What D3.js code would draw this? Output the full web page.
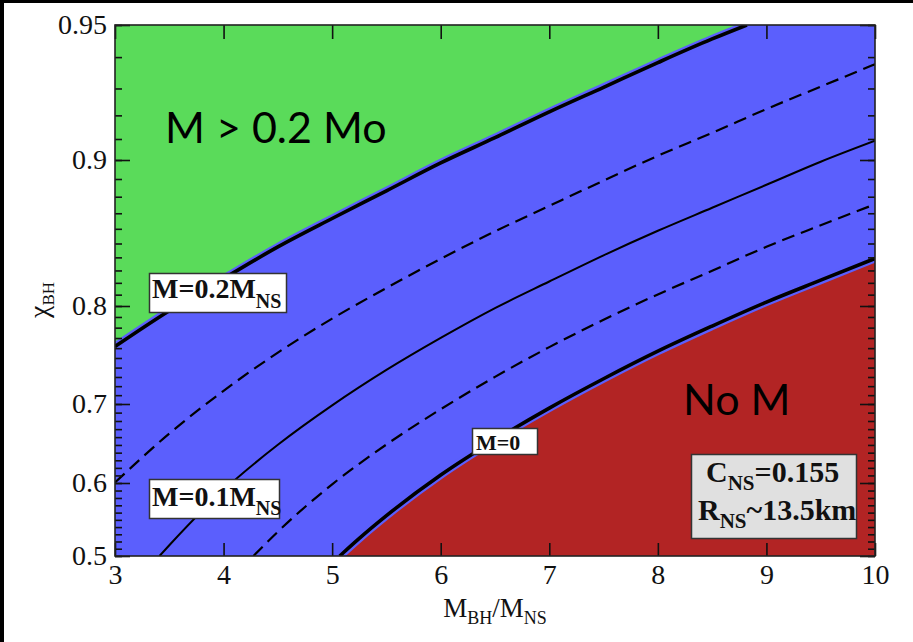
<!DOCTYPE html>
<html>
<head>
<meta charset="utf-8">
<script src="https://cdn.jsdelivr.net/npm/d3@7"></script>
<style>
  body { margin: 0; background: #fff; }
  svg { display: block; }
</style>
</head>
<body>
<svg id="chart" width="913" height="642"></svg>
<script>
// ---- data: remnant-mass contours in the (M_BH/M_NS, chi_BH) plane ----
const qTicks = [3, 4, 5, 6, 7, 8, 9, 10];
const chiTicks = [0.5, 0.6, 0.7, 0.8, 0.9, 0.95];
const chiTickLabels = ["0.5", "0.6", "0.7", "0.8", "0.9", "0.95"];

// contour M = 0 (no remnant to the lower right)
const contourM0 = [[5.07, 0.5], [5.1, 0.5041], [5.25, 0.5243], [5.5, 0.5558], [6, 0.6106], [6.5, 0.6564],
  [7, 0.6953], [7.5, 0.7281], [8, 0.7569], [8.5, 0.7815], [9, 0.8035], [9.5, 0.8222], [10, 0.8392]];
// contour M = 0.05 M_NS
const contourM005 = [[4.275, 0.5], [4.5, 0.5336], [5, 0.5982], [5.5, 0.6506], [6, 0.694], [6.5, 0.7301],
  [7, 0.761], [7.5, 0.7874], [8, 0.8102], [8.5, 0.8298], [9, 0.8477], [9.5, 0.8623], [10, 0.8755]];
// contour M = 0.1 M_NS
const contourM01 = [[3.41, 0.5], [3.5, 0.5148], [4, 0.5905], [4.5, 0.6502], [5, 0.6984], [5.5, 0.7375],
  [6, 0.7701], [6.5, 0.7981], [7, 0.8211], [7.5, 0.8415], [8, 0.8587], [8.5, 0.8734], [9, 0.8868],
  [9.5, 0.8991], [10, 0.9092]];
// contour M = 0.15 M_NS
const contourM015 = [[3, 0.6006], [3.5, 0.6645], [4, 0.7149], [4.5, 0.7555], [5, 0.7885], [5.5, 0.8157],
  [6, 0.8389], [6.5, 0.8583], [7, 0.8745], [7.5, 0.8891], [8, 0.9021], [8.5, 0.9127], [9, 0.9225],
  [9.5, 0.9306], [10, 0.9378]];
// contour M = 0.2 M_NS (more than 0.2 Msun above it)
const contourM02 = [[3, 0.7616], [3.5, 0.7957], [4, 0.8235], [4.5, 0.8476], [5, 0.8667], [5.5, 0.8834],
  [6, 0.8985], [6.5, 0.9106], [7, 0.9214], [7.5, 0.9304], [8, 0.9383], [8.5, 0.9456], [8.82, 0.95]];

// ---- layout ----
const plot = { left: 115, right: 875, top: 25, bottom: 556 };
const plotH = plot.bottom - plot.top;

// the spin axis is stretched towards high spin: anchor spins and their
// height above the bottom edge (out of 531), joined by a smooth monotone curve
const chiAnchors = [0.5, 0.6, 0.7, 0.8, 0.85, 0.9, 0.925, 0.95];
const chiAnchorHeights = [0, 73, 152, 250, 312.5, 396, 453.5, 531];

function monotoneCubic(xs, ys) {
  const n = xs.length, dx = [], m = [], t = new Array(n);
  for (let k = 0; k < n - 1; k++) { dx[k] = xs[k + 1] - xs[k]; m[k] = (ys[k + 1] - ys[k]) / dx[k]; }
  t[0] = m[0]; t[n - 1] = m[n - 2];
  for (let k = 1; k < n - 1; k++) {
    if (m[k - 1] * m[k] <= 0) t[k] = 0;
    else t[k] = 3 * (dx[k - 1] + dx[k]) /
      ((2 * dx[k] + dx[k - 1]) / m[k - 1] + (dx[k] + 2 * dx[k - 1]) / m[k]);
  }
  return v => {
    let k = Math.max(0, Math.min(n - 2, d3.bisectRight(xs, v) - 1));
    const h = dx[k], s = (v - xs[k]) / h, s2 = s * s, s3 = s2 * s;
    return (2 * s3 - 3 * s2 + 1) * ys[k] + (s3 - 2 * s2 + s) * h * t[k] +
      (-2 * s3 + 3 * s2) * ys[k + 1] + (s3 - s2) * h * t[k + 1];
  };
}
const chiHeight = monotoneCubic(chiAnchors, chiAnchorHeights);
const chiDense = d3.range(0, 181).map(i => 0.5 + i * 0.0025);

const colors = { green: "#5adb5a", blue: "#5b5ffd", red: "#b22424" };
const serif = "'Liberation Serif', 'DejaVu Serif', serif";
const sans = "Lato, 'Open Sans', 'Liberation Sans', sans-serif";

const svg = d3.select("#chart");

// outer dark edge of the figure
svg.append("rect").attr("x", 0).attr("y", 0).attr("width", 913).attr("height", 3).attr("fill", "#000");
svg.append("rect").attr("x", 0).attr("y", 0).attr("width", 4).attr("height", 642).attr("fill", "#000");

const x = d3.scaleLinear().domain([3, 10]).range([plot.left, plot.right]);
const y = d3.scaleLinear().domain(chiDense)
  .range(chiDense.map(c => plot.bottom - chiHeight(c) / 531 * plotH));

svg.append("clipPath").attr("id", "plotClip")
  .append("rect").attr("x", plot.left).attr("y", plot.top)
  .attr("width", plot.right - plot.left).attr("height", plotH);

const g = svg.append("g").attr("clip-path", "url(#plotClip)");

// regions
g.append("rect").attr("x", plot.left).attr("y", plot.top)
  .attr("width", plot.right - plot.left).attr("height", plotH).attr("fill", colors.blue);

g.append("path").datum(contourM02)
  .attr("d", d3.area().x(d => x(d[0])).y0(y(0.95)).y1(d => y(d[1])).curve(d3.curveMonotoneX))
  .attr("fill", colors.green);

g.append("path").datum(contourM0)
  .attr("d", d3.area().x(d => x(d[0])).y0(y(0.5)).y1(d => y(d[1])).curve(d3.curveMonotoneX))
  .attr("fill", colors.red);

// contour lines
const line = d3.line().x(d => x(d[0])).y(d => y(d[1])).curve(d3.curveMonotoneX);

[contourM02, contourM0].forEach(c => {
  g.append("path").datum(c).attr("d", line).attr("fill", "none")
    .attr("stroke", colors.blue).attr("stroke-width", 8);
  g.append("path").datum(c).attr("d", line).attr("fill", "none")
    .attr("stroke", "#000").attr("stroke-width", 3.6);
});
g.append("path").datum(contourM01).attr("d", line).attr("fill", "none")
  .attr("stroke", "#000").attr("stroke-width", 2);
[contourM005, contourM015].forEach(c => {
  g.append("path").datum(c).attr("d", line).attr("fill", "none")
    .attr("stroke", "#000").attr("stroke-width", 2.2).attr("stroke-dasharray", "13,7");
});

// axes (ticks point inwards)
function styleAxis(sel) {
  sel.select(".domain").remove();
  sel.selectAll(".tick line").attr("stroke", "#111").attr("stroke-width", 1.6);
  sel.selectAll(".tick text").attr("font-family", serif).attr("font-size", 28).attr("fill", "#111");
}

const chiMinor = d3.range(50, 96).map(d => d / 100);

svg.append("g").attr("transform", `translate(0,${plot.bottom})`)
  .call(d3.axisBottom(x).tickValues(qTicks).tickSize(-13).tickPadding(8).tickFormat(d3.format("d")))
  .call(styleAxis);
svg.append("g").attr("transform", `translate(0,${plot.top})`)
  .call(d3.axisTop(x).tickValues(qTicks).tickSize(-14).tickFormat(""))
  .call(styleAxis);

svg.append("g").attr("transform", `translate(${plot.left},0)`)
  .call(d3.axisLeft(y).tickValues(chiMinor).tickSize(-7).tickFormat(""))
  .call(styleAxis);
svg.append("g").attr("transform", `translate(${plot.left},0)`)
  .call(d3.axisLeft(y).tickValues(chiTicks).tickSize(-15).tickPadding(8)
    .tickFormat((d, i) => chiTickLabels[i]))
  .call(styleAxis);
svg.append("g").attr("transform", `translate(${plot.right},0)`)
  .call(d3.axisRight(y).tickValues(chiMinor).tickSize(-7).tickFormat(""))
  .call(styleAxis);
svg.append("g").attr("transform", `translate(${plot.right},0)`)
  .call(d3.axisRight(y).tickValues(chiTicks).tickSize(-15).tickFormat(""))
  .call(styleAxis);

// frame
svg.append("rect").attr("x", plot.left).attr("y", plot.top)
  .attr("width", plot.right - plot.left).attr("height", plotH)
  .attr("fill", "none").attr("stroke", "#222").attr("stroke-width", 1.6);

// axis titles
const xt = svg.append("text").attr("x", (plot.left + plot.right) / 2).attr("y", 617)
  .attr("text-anchor", "middle").attr("font-family", serif).attr("font-size", 27).attr("fill", "#111");
xt.append("tspan").text("M");
xt.append("tspan").attr("font-size", 18).attr("dy", 7).text("BH");
xt.append("tspan").attr("dy", -7).text("/M");
xt.append("tspan").attr("font-size", 18).attr("dy", 7).text("NS");

const yt = svg.append("text").attr("transform", "translate(48,300) rotate(-90)")
  .attr("text-anchor", "middle").attr("font-family", serif).attr("font-size", 28).attr("fill", "#111");
yt.append("tspan").text("χ");
yt.append("tspan").attr("font-size", 17).attr("dy", 6).text("BH");

// boxed labels
function boxedLabel(bx, by, bw, bh, fill, lines) {
  const grp = svg.append("g");
  grp.append("rect").attr("x", bx).attr("y", by).attr("width", bw).attr("height", bh)
    .attr("fill", fill).attr("stroke", "#333").attr("stroke-width", 1.5);
  lines.forEach(l => {
    const t = grp.append("text").attr("x", l.x).attr("y", l.y).attr("font-family", serif)
      .attr("font-weight", "bold").attr("font-size", l.size).attr("fill", "#111");
    l.parts.forEach(p => {
      const ts = t.append("tspan").text(p.text);
      if (p.sub) ts.attr("font-size", p.sub).attr("dy", p.dy);
      else if (p.dy) ts.attr("dy", p.dy);
    });
  });
}

boxedLabel(149.5, 273.5, 137, 39, "#fff", [
  { x: 152, y: 298, size: 28, parts: [{ text: "M=0.2M" }, { text: "NS", sub: 20, dy: 10 }] }
]);
boxedLabel(149.5, 479.5, 130, 39, "#fff", [
  { x: 152, y: 506, size: 28, parts: [{ text: "M=0.1M" }, { text: "NS", sub: 20, dy: 9 }] }
]);
boxedLabel(472.5, 428.5, 65, 26, "#fff", [
  { x: 476, y: 450, size: 22, parts: [{ text: "M=0" }] }
]);
boxedLabel(691.5, 454.5, 165, 84, "#e0e0e0", [
  { x: 706, y: 482, size: 30, parts: [{ text: "C" }, { text: "NS", sub: 21, dy: 8 }, { text: "=0.155", dy: -8 }] },
  { x: 698, y: 520, size: 30, parts: [{ text: "R" }, { text: "NS", sub: 21, dy: 8 }, { text: "~13.5km", dy: -8 }] }
]);

// region captions
svg.append("text").attr("x", 165).attr("y", 143).attr("font-family", sans).attr("font-size", 43)
  .attr("fill", "#000").text("M > 0.2 Mo");
svg.append("text").attr("x", 683).attr("y", 415).attr("font-family", sans).attr("font-size", 43)
  .attr("fill", "#000").text("No M");
</script>
</body>
</html>
